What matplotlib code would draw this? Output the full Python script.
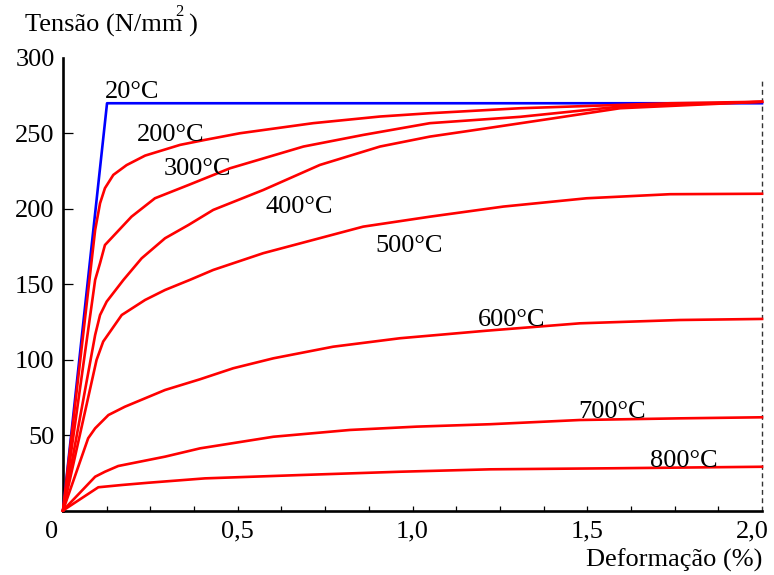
import matplotlib
matplotlib.use("Agg")
import matplotlib.pyplot as plt
from matplotlib.transforms import ScaledTranslation

plt.rcParams["font.family"] = ["Liberation Serif", "DejaVu Serif"]

# stress-strain curves of steel at elevated temperature
x_20 = [0, 0.126, 2.0]
y_20 = [0, 270, 270]

x_200 = [0, 0.092, 0.106, 0.120, 0.144, 0.182, 0.235, 0.335, 0.406, 0.506,
         0.716, 0.907, 1.05, 1.308, 1.594, 1.737, 2.0]
y_200 = [0, 186, 203.7, 213.7, 222.5, 229, 235.3, 242.4, 245.7, 250.1,
         256.8, 261.2, 263.4, 266.7, 268.9, 270, 271]

x_300 = [0, 0.092, 0.106, 0.120, 0.196, 0.263, 0.359, 0.478, 0.688, 0.859,
         1.05, 1.308, 1.594, 2.0]
y_300 = [0, 152.9, 164, 176, 194.8, 207, 215.8, 226.9, 241.3, 249,
         256.8, 261, 267.8, 271]

x_400 = [0, 0.092, 0.106, 0.125, 0.173, 0.225, 0.292, 0.359, 0.43, 0.573,
         0.735, 0.907, 1.05, 1.212, 1.403, 1.594, 2.0]
y_400 = [0, 116.4, 129.6, 138.5, 152.9, 167.2, 180.5, 189.3, 199.3, 212.5,
         229.1, 241.3, 247.9, 253.4, 260, 266.7, 271]

x_500 = [0, 0.096, 0.115, 0.168, 0.235, 0.292, 0.363, 0.43, 0.573, 0.716,
         0.859, 1.05, 1.26, 1.498, 1.737, 2.0]
y_500 = [0, 99.8, 112, 129.6, 139.6, 146.2, 152.9, 159.5, 170.6, 179.4,
         188.2, 194.8, 201.5, 207, 209.7, 210]

x_600 = [0, 0.072, 0.092, 0.130, 0.177, 0.292, 0.392, 0.487, 0.602, 0.773,
         0.964, 1.212, 1.479, 1.765, 2.0]
y_600 = [0, 47.9, 54.5, 63.3, 68.8, 79.9, 87, 94.3, 100.9, 108.6,
         114.2, 119.2, 124.1, 126.3, 127]

x_700 = [0, 0.092, 0.120, 0.158, 0.292, 0.392, 0.602, 0.821, 1.012, 1.222,
         1.479, 1.765, 2.0]
y_700 = [0, 22.4, 25.7, 29.5, 35.7, 41.2, 48.9, 53.4, 55.6, 57.2,
         60, 61.1, 61.8]

x_800 = [0, 0.101, 0.168, 0.244, 0.406, 0.678, 0.964, 1.222, 1.574, 2.0]
y_800 = [0, 15.4, 16.9, 18.4, 21.3, 23.5, 25.7, 27.3, 28, 29]

red_curves = [(x_200, y_200), (x_300, y_300), (x_400, y_400), (x_500, y_500),
              (x_600, y_600), (x_700, y_700), (x_800, y_800)]

curve_labels = ["20°C", "200°C", "300°C", "400°C", "500°C", "600°C", "700°C", "800°C"]
label_x = [0.120, 0.211, 0.287, 0.578, 0.893, 1.187, 1.474, 1.680]
label_y = [273.3, 245, 222.5, 197.5, 171.6, 122.3, 61.1, 28.6]

x_ticks = [0.5, 1.0, 1.5, 2.0]
x_ticklabels = ["0,5", "1,0", "1,5", "2,0"]
x_minor = [i * 0.125 for i in range(1, 16)]
y_ticks = [50, 100, 150, 200, 250, 300]
y_ticklabels = ["50", "100", "150", "200", "250", "300"]

fs = 19
W, H = 774, 575

fig = plt.figure(figsize=(W / 100, H / 100), dpi=100)
ax = fig.add_axes([63 / W, 1 - 510.5 / H, 699 / W, 452.5 / H])

ax.plot(x_20, y_20, color="#0000ff", lw=1.9, clip_on=False, zorder=3)
for xs, ys in red_curves:
    ax.plot(xs, ys, color="#ff0000", lw=1.9, clip_on=False, zorder=4)

# dashed end line at 2,0 %
ax.plot([2.0, 2.0], [0, 286], color="#333333", lw=1.0,
        linestyle=(0, (3.5, 2.5)), clip_on=False, zorder=2)

for txt, lx, ly in zip(curve_labels, label_x, label_y):
    ax.text(lx, ly, txt, fontsize=fs, ha="left", va="baseline", zorder=5)

ax.set_xlim(0, 2.0)
ax.set_ylim(0, 300)

for s in ["top", "right"]:
    ax.spines[s].set_visible(False)
for s in ["left", "bottom"]:
    ax.spines[s].set_linewidth(1.9)
    ax.spines[s].set_capstyle("projecting")

ax.set_xticks(x_ticks)
ax.set_xticklabels(x_ticklabels)
ax.set_xticks(x_minor, minor=True)
ax.set_yticks(y_ticks)
ax.set_yticklabels(y_ticklabels)
ax.tick_params(axis="x", which="both", direction="in", length=3.5, width=0.9,
               labelsize=fs, pad=7)
ax.tick_params(axis="y", which="major", direction="in", length=7.5, width=0.9,
               labelsize=fs, pad=6)
# no tick mark at the top of the axis
ax.yaxis.get_major_ticks()[-1].tick1line.set_visible(False)
ax.xaxis.get_major_ticks()[-1].tick1line.set_visible(False)

# last x label sits a bit left so it stays inside the picture
last = ax.get_xticklabels()[-1]
last.set_transform(last.get_transform() + ScaledTranslation(-10 / 100, 0, fig.dpi_scale_trans))

fig.text(51.7 / W, 1 - 538 / H, "0", fontsize=fs, ha="center", va="baseline")

fig.text(762 / W, 1 - 567 / H, "Deformação (%)", fontsize=fs,
         ha="right", va="baseline")
fig.text(25 / W, 1 - 31.7 / H, "Tensão (N/mm )", fontsize=fs,
         ha="left", va="baseline")
fig.text(179 / W, 1 - 15.5 / H, "2", fontsize=12, ha="center", va="baseline")

fig.savefig("out.png", dpi=100)
